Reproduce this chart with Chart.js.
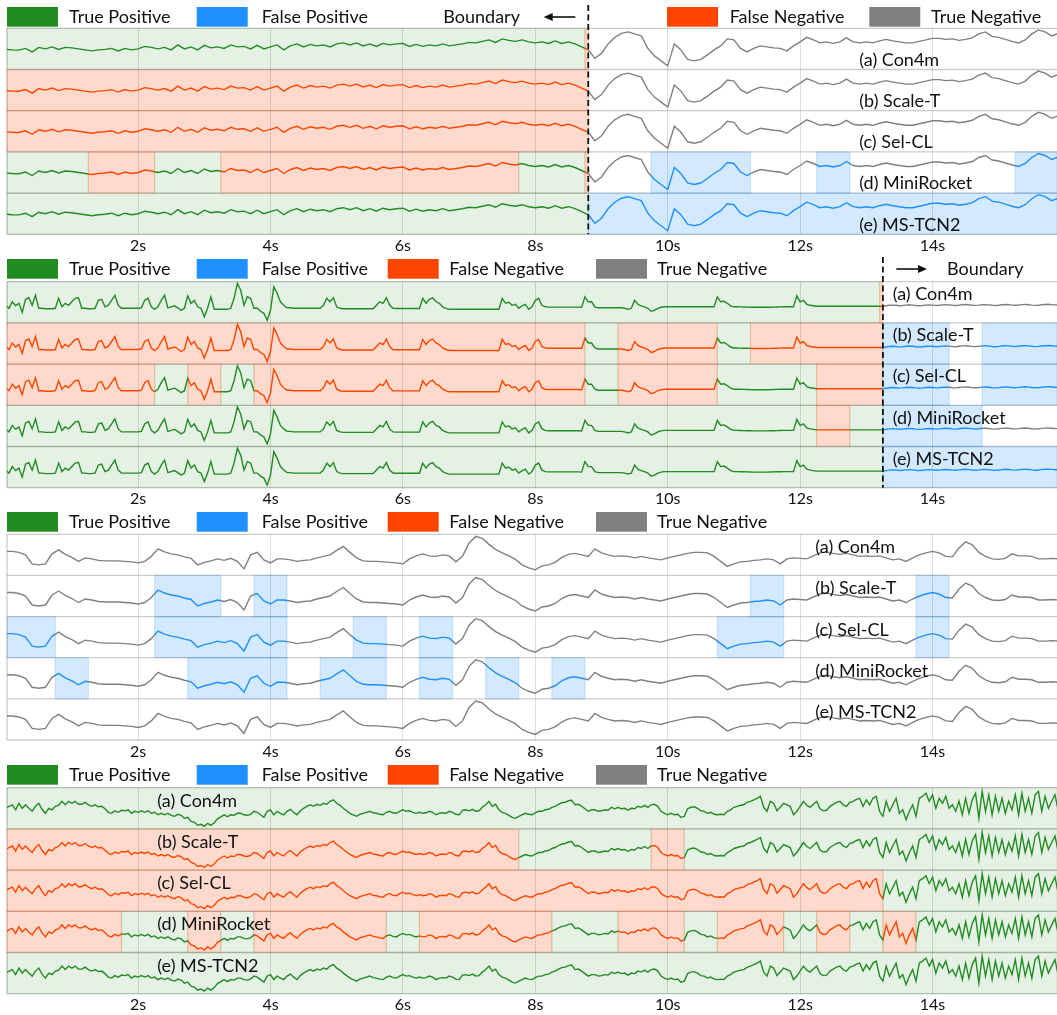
<!DOCTYPE html>
<html><head><meta charset="utf-8">
<script src="https://cdn.jsdelivr.net/npm/chart.js@4.4.0/dist/chart.umd.min.js"></script>
<style>
html,body{margin:0;padding:0;background:#fff;width:1057px;height:1015px;overflow:hidden}
canvas{position:absolute;left:0}
</style></head><body>
<canvas id="c0" width="1057" height="256" style="top:0px"></canvas>
<canvas id="c1" width="1057" height="256" style="top:253px"></canvas>
<canvas id="c2" width="1057" height="256" style="top:506px"></canvas>
<canvas id="c3" width="1057" height="256" style="top:759px"></canvas>
<script>
// ---------------- DATA ----------------
const methods = ['(a) Con4m', '(b) Scale-T', '(c) Sel-CL', '(d) MiniRocket', '(e) MS-TCN2'];
const legendNames = { TP: 'True Positive', FP: 'False Positive', FN: 'False Negative', TN: 'True Negative' };
const tickValues = [2, 4, 6, 8, 10, 12, 14];
const timeMin = 0.02;
const timeMax = 15.88;

// Panel 1 signal, sampled every 0.1 s from t = 0
const p1Step = 0.1;
const p1Signal = [
 -0.5,-1,-1.2,0.5,-3,1.5,0,2,-0.5,1.5,
 1,0,-1,-2,-1,-0.5,0.5,-2,0.5,-1,
 0,2.5,1.5,0,1.5,-1,4,0,2,-1,
 3.5,1,2,0.5,4,2,2.5,0,3.5,0,
 2,4,-1,3,5,2,4.5,3,4,2,
 5,6,4,6,3,5,2.5,5.5,4,5,
 5.5,2.5,4.5,2.5,4,3,5,3,4,5,
 6.5,6,7.5,9,6.5,10,8.5,7.5,9,7,
 6,7,5.5,8,5.5,7,5,2,-1,-9.5,
 -4.5,5,11.5,15.5,17,15,13,0.5,-7,-12,
 -17,5,-1,-10.5,-12,-10.5,-6,-1,3,10,
 9,0.5,-3,0.5,3,2,1,0.5,-2,3,
 7,11.5,9,6,7,5.5,7,11,7,6,
 7,6,8,9.5,8,7,6,6,7.5,9,
 10.5,10.5,9.5,10,8.5,9.5,11,15,17,12.5,
 11.5,9.5,7.5,6,9,15,19,17,13,15.5,
 17];
const p1Spans = [
 [[0,8.75,'TP'],[8.75,8.8,'FN']],
 [[0,8.8,'FN']],
 [[0,8.8,'FN']],
 [[0,1.25,'TP'],[1.25,2.25,'FN'],[2.25,3.25,'TP'],[3.25,7.75,'FN'],[7.75,8.75,'TP'],[8.75,8.8,'FN'],[9.75,11.25,'FP'],[12.25,12.75,'FP'],[15.25,16,'FP']],
 [[0,8.8,'TP'],[8.8,16,'FP']]
];
const p1Boundary = 8.8;

// Panel 2 signal, sampled every 0.05 s from t = 0
const p2Step = 0.05;
const p2Signal = [
 -3,-6,0.5,-3.5,-1,-10,3,4.5,-3,7,-6,-6,-6.5,-6.5,-6.5,-6,4,-4.5,-1,-3,
 0.5,4,4.5,-6,-6,-6.5,-6.5,-6,2,3,-4.5,-3,2,7,-3,-6,-6,-6,-6,-6,
 -6,-5.5,2,4,-4.5,-7,-4.5,2,7,-5.5,-4.5,-3.5,-5.5,-8,-6,6.5,-1,2,-4.5,-6,
 -14.5,-6,5.5,-7,-7,-7,-7,-7,-6,4,19,12,-3,5.5,4,-6,-6,-9,-11,-18,
 -8,15.5,9,0.5,-3,-5.5,-5.5,-6,-6,-6,-6,-6,-6,-6,-6,-6,-3,4,0.5,4.5,
 -4.5,-6,-6.5,-6.5,-6.5,-6.5,-6.5,-6.5,-6.5,-6.5,-6.5,-6.5,-3,0.5,-1,4.5,-3,-6,-6.2,-6.2,
 -6.2,-6.2,-6.2,-6.2,-6.2,-6.2,4,-1,3,4.5,0.5,-1,-4.5,-6,-7,-7,-7,-7,-7,-7,
 -7,-7,-7,-7,-7,-7,-7,-7,-7,-7,4,-1,0,-3,-2,-6,-3.5,-2,-7,-4.5,
 2,4,-3,-4.5,-4.8,-4.8,-4.8,-4.8,-4.8,-4.8,-4.8,-4.8,-4.8,-4.8,-5,5.5,0.5,0.5,-4.5,-5.5,
 -5.5,-5.5,-5.5,-5.5,-5.5,-5.5,-5.5,-6,-7,-6,2,-2,-3.5,-4.5,-6,-9,-8,-6,-5,-4.5,
 -4.5,-4.5,-4.5,-4.5,-4.5,-4.5,-4.5,-4.5,-4.5,-4.5,-4.5,-4.5,-4.5,-4.5,-4.5,5.5,0.5,1,-1,-3.5,
 -4.5,-4.5,-4.6,-4.7,-4.8,-4.9,-5,-5,-5,-5,-5,-4.9,-4.8,-4.7,-4.6,-4.5,-4.5,-4.5,-4.5,6.5,
 0.5,2,-2,-3,-3.5,-4,-4,-4,-4,-4,-4,-4,-4,-4,-4,-4,-4,-4,-4,-4,
 -4,-4,-4,-4,-4,-4,-3.5,-3,-2.8,-3,-3.4,-3.2,-2.8,-2.5,-2.8,-3.2,-3.5,-3.2,-2.8,-2.6,
 -2.8,-3.2,-3,-2.6,-2.4,-2.6,-3,-3.2,-2.8,-2.4,-2.2,-2.5,-2.9,-3.1,-2.8,-2.4,-2.3,-2.6,-3,-3.2,
 -2.9,-2.5,-2.2,-2.4,-2.8,-3,-2.7,-2.3,-2.1,-2.4,-2.8,-3.1,-2.9,-2.5,-2.2,-2,-2.3,-2.6,-2.8,-2.5,
 -2.2];
const p2Spans = [
 [[0,13.2,'TP'],[13.2,13.25,'FN']],
 [[0,8.75,'FN'],[8.75,9.25,'TP'],[9.25,10.75,'FN'],[10.75,11.25,'TP'],[11.25,13.25,'FN'],[13.25,14.25,'FP'],[14.75,16,'FP']],
 [[0,2.25,'FN'],[2.25,2.75,'TP'],[2.75,3.25,'FN'],[3.25,3.75,'TP'],[3.75,8.75,'FN'],[8.75,9.25,'TP'],[9.25,10.75,'FN'],[10.75,12.25,'TP'],[12.25,13.25,'FN'],[13.25,14.25,'FP'],[14.75,16,'FP']],
 [[0,12.25,'TP'],[12.25,12.75,'FN'],[12.75,13.25,'TP'],[13.25,14.75,'FP']],
 [[0,13.25,'TP'],[13.25,16,'FP']]
];
const p2Boundary = 13.25;

// Panel 3 signal, sampled every 0.1 s from t = 0
const p3Step = 0.1;
const p3Signal = [
 3.5,3.5,2.5,0,-9,-10,-9,1,5,0.5,
 -2.5,-6.5,-3,-4,-5.5,-6,-6,-6,-6.5,-7,
 -8,-6.5,-1.5,6,3,1,0,-2,-3.5,-10,
 -7.5,-6,-4,-5.5,-3.5,-6.5,-14,0,2.5,-5,
 -8,-4,-4,-5,-6.5,-5.5,-5,-3,-1.5,0,
 4.5,8.5,2.5,-3,-6,-6.5,-6.5,-7,-7.5,-8,
 -9,-4,-1,1,-1,-1.5,0,-1,-7,-1.5,
 12,18.5,16.5,10.5,5.5,2,-1,-4.5,-10,-13,
 -15,-11,-10,-7.5,-2.5,0.5,1.5,0,-1.5,6,
 2,0,-1.5,-1,-1.5,-3,-1.5,-3,-4,-5,
 -3,-1.5,0,1.5,2.5,2.5,2,-1.5,-6.5,-11.5,
 -9,-7,-6.5,-5.5,-5,-4,-5,-9,-4,-3,
 -3.5,-4,-1,2,3,1.5,0.5,1.5,0,-1.5,
 -1,-1.5,-1,-3,-5,-4,-6.5,-3,0,2,
 3.5,2,-1.5,-2,7,13,10,2.5,-1.5,-4,
 -4.5,-3.5,1,-1,-1,-1.5,-4,-4,-3.5,-4,
 -5];
const p3Spans = [
 [],
 [[2.25,3.25,'FP'],[3.75,4.25,'FP'],[11.25,11.75,'FP'],[13.75,14.25,'FP']],
 [[0,0.75,'FP'],[2.25,4.25,'FP'],[5.25,5.75,'FP'],[6.25,6.75,'FP'],[10.75,11.75,'FP'],[13.75,14.25,'FP']],
 [[0.75,1.25,'FP'],[2.75,4.25,'FP'],[4.75,5.75,'FP'],[6.25,6.75,'FP'],[7.25,7.75,'FP'],[8.25,8.75,'FP']],
 []
];

// Panel 4 signal, sampled every 0.05 s from t = 0
const p4Step = 0.05;
const p4Signal = [
 0,2,3.5,-1.5,5,0,3.5,0,-3,2,5,-1,-5,0,-1.5,2,3,7,3.5,7,
 5,7,4,4,6,3.5,2,3.5,1.5,2,-0.5,-4,-5,-2.5,-4,-2,-2.5,-1.5,-5,-3,
 -4,-2.5,-4,-2.5,-5,-4,-6.5,-5,-6.5,-5,-7,-8,-6,-7,-10,-9,-13,-14,-17,-16,
 -18,-15,-17,-14.5,-10.5,-8.5,-6.5,-8.5,-6.5,-7,-5,-5,-6.5,-7,-6,-3,-4,-6.5,-9,-3,
 -1.5,-6.5,-3,-5,-6.5,-3,-1,-4,-6.5,-2.5,0,2,3.5,2,4,3,5,4,7,8.5,
 5,3,0,-2.5,-5,-6.5,-8,-6,-5,-4,-3,-4.5,-5,-6,-6.5,-4,-3,-4.5,-5,-3,
 -1.5,-3,-2.5,-4,-5,-4,-5,-4.5,-3,-4,-6.5,-5,-4.5,-5,-3,-4,-6,-6.5,-2,-1.5,
 -2.5,-1,-3,-2.5,1,3.5,7,2,4,-1.5,-4,-5,-7,-9,-10,-8,-6.5,-5,-6,-6.5,
 -4.5,-3,-3,-1.5,-1,1,2,4,5.5,6,7.5,8,3.5,4,2,-0.5,-3,-1.5,-1.5,-3,
 -2.5,-1.5,-2,1,-0.5,1,-0.5,0,-2,0,-0.5,2,1,3,1,3.5,4,2,-3,-5,
 -6.5,-5,-6.5,-6,-9,-8,-0.5,1,1.5,0,-2.5,-3,-5,-4,-6,-6.5,-6,-6.5,-3,-1.5,
 1,2,3,3.5,6,7,8.5,10,12,1,-3,7,5,-2.5,1,5,3.5,2,-6.5,-3,
 2,7,3,1,4,7,-0.5,-2.5,-2,2,4,6,7,3.5,2,6,7,9,10,2,
 8.5,3.5,10,12,-3,-8,7,-3,3.5,10,-5,-1.5,-11.5,-3,3.5,-8,10,12,15,7,
 13.5,0,10,5,12,0,3.5,-3,7,-6.5,10,-5,8.5,15,-10,17,-3,13.5,-6.5,12,
 -3,10,-5,7,-1.5,13.5,-6.5,15,-3,10,-5,13.5,17,-3,12,0,7,13.5,-3,10,
 3.5];
const p4Spans = [
 [[0,16,'TP']],
 [[0,7.75,'FN'],[7.75,9.75,'TP'],[9.75,10.25,'FN'],[10.25,16,'TP']],
 [[0,13.25,'FN'],[13.25,16,'TP']],
 [[0,1.75,'FN'],[1.75,2.75,'TP'],[2.75,3.25,'FN'],[3.25,3.75,'TP'],[3.75,5.75,'FN'],[5.75,6.25,'TP'],[6.25,8.25,'FN'],[8.25,9.25,'TP'],[9.25,10.25,'FN'],[10.25,10.75,'TP'],[10.75,11.75,'FN'],[11.75,12.25,'TP'],[12.25,12.75,'FN'],[12.75,13.25,'TP'],[13.25,13.75,'FN'],[13.75,16,'TP']],
 [[0,16,'TP']]
];

// ---------------- STYLE / LAYOUT ----------------
const ROW_RANGE = 41.2;
const FONT = 'Lato, "Open Sans", sans-serif';
const LINE = { TP: '#228B22', FP: '#1E90FF', FN: '#FF4500', TN: '#808080' };
const FILL = { TP: 'rgba(34,139,34,0.12)', FP: 'rgba(30,144,255,0.2)', FN: 'rgba(255,69,0,0.2)' };
const legendFull = [[7, 69, 'TP'], [196.7, 261.7, 'FP'], [387.7, 449.3, 'FN'], [596, 657, 'TN']];
const legendSplit = [[7, 69, 'TP'], [196.7, 261.7, 'FP'], [667, 729.7, 'FN'], [869.3, 931, 'TN']];

const panels = [
 { id: 'c0', step: p1Step, signal: p1Signal, spans: p1Spans, boundary: p1Boundary, plotTop: 28.3, plotBottom: 234.3,
   legendTop: 7, legend: legendSplit, bLegend: { textX: 443.3, tail: 575.3, head: 543.7 }, labelX: 859.3, labelDy: 37.4 },
 { id: 'c1', step: p2Step, signal: p2Signal, spans: p2Spans, boundary: p2Boundary, plotTop: 28.7, plotBottom: 234.7,
   legendTop: 6, legend: legendFull, bLegend: { textX: 947, tail: 896.3, head: 927 }, labelX: 892.7, labelDy: 18.3 },
 { id: 'c2', step: p3Step, signal: p3Signal, spans: p3Spans, boundary: null, plotTop: 28.3, plotBottom: 234,
   legendTop: 6, legend: legendFull, bLegend: null, labelX: 815.3, labelDy: 19 },
 { id: 'c3', step: p4Step, signal: p4Signal, spans: p4Spans, boundary: null, plotTop: 28.7, plotBottom: 234.7,
   legendTop: 6, legend: legendFull, bLegend: null, labelX: 157.3, labelDy: 19 }
];
const CANVAS_H = 256, AXIS_H = 20;

function lineGradient(chart, spans) {
  const { ctx, chartArea, scales } = chart;
  if (!chartArea) return LINE.TN;
  const x0 = chartArea.left, x1 = chartArea.right;
  const g = ctx.createLinearGradient(x0, 0, x1, 0);
  const pos = v => Math.min(1, Math.max(0, (scales.x.getPixelForValue(v) - x0) / (x1 - x0)));
  const sorted = spans.slice().sort((a, b) => a[0] - b[0]);
  let cur = scales.x.min; const pieces = [];
  for (const [s, e, t] of sorted) { if (s > cur) pieces.push([cur, s, 'TN']); pieces.push([s, e, t]); cur = e; }
  if (cur < scales.x.max) pieces.push([cur, scales.x.max, 'TN']);
  for (const [s, e, t] of pieces) { g.addColorStop(pos(s), LINE[t]); g.addColorStop(pos(e), LINE[t]); }
  return g;
}

const panelPlugin = {
  id: 'panelDecor',
  beforeDraw(chart, args, o) {
    const { ctx, chartArea: a, scales: { x, y } } = chart;
    ctx.save();
    o.spans.forEach((row, r) => {
      const top = y.getPixelForValue((5 - r) * ROW_RANGE), bot = y.getPixelForValue((4 - r) * ROW_RANGE);
      row.forEach(([s, e, t]) => {
        const xs = Math.max(a.left, x.getPixelForValue(s)), xe = Math.min(a.right, x.getPixelForValue(e));
        ctx.fillStyle = FILL[t]; ctx.fillRect(xs, top, xe - xs, bot - top);
        ctx.strokeStyle = FILL[t]; ctx.lineWidth = 1.2; ctx.strokeRect(xs, top, xe - xs, bot - top);
      });
    });
    ctx.restore();
  },
  beforeDatasetsDraw(chart, args, o) {
    const { ctx, chartArea: a, scales: { y } } = chart;
    ctx.save();
    ctx.strokeStyle = 'rgba(110,110,110,0.35)'; ctx.lineWidth = 1.3;
    for (let k = 0; k <= 5; k++) {
      const py = y.getPixelForValue(k * ROW_RANGE);
      ctx.beginPath(); ctx.moveTo(a.left, py); ctx.lineTo(a.right, py); ctx.stroke();
    }
    ctx.beginPath(); ctx.moveTo(a.left, a.top); ctx.lineTo(a.left, a.bottom); ctx.stroke();
    ctx.restore();
  },
  afterDraw(chart, args, o) {
    const { ctx, chartArea: a, scales: { x, y } } = chart;
    ctx.save();
    ctx.fillStyle = '#111'; ctx.font = '18px ' + FONT; ctx.textBaseline = 'alphabetic'; ctx.textAlign = 'left';
    methods.forEach((m, r) => {
      const top = y.getPixelForValue((5 - r) * ROW_RANGE);
      ctx.fillText(m, o.labelX, top + o.labelDy);
    });
    o.legend.forEach(([bx, tx, k]) => {
      ctx.fillStyle = LINE[k]; ctx.fillRect(bx, o.legendTop, 51, 19.7);
      ctx.fillStyle = '#111'; ctx.fillText(legendNames[k], tx, o.legendTop + 15.7);
    });
    if (o.bLegend) {
      const b = o.bLegend, ay = o.legendTop + 10;
      ctx.fillStyle = '#111'; ctx.fillText('Boundary', b.textX, o.legendTop + 15.7);
      const dir = Math.sign(b.head - b.tail);
      ctx.strokeStyle = '#111'; ctx.lineWidth = 1.6;
      ctx.beginPath(); ctx.moveTo(b.tail, ay); ctx.lineTo(b.head - dir * 6, ay); ctx.stroke();
      ctx.beginPath(); ctx.moveTo(b.head, ay); ctx.lineTo(b.head - dir * 9, ay - 4); ctx.lineTo(b.head - dir * 9, ay + 4); ctx.closePath(); ctx.fill();
    }
    if (o.boundary != null) {
      const bx = x.getPixelForValue(o.boundary);
      ctx.strokeStyle = '#111'; ctx.lineWidth = 1.8; ctx.setLineDash([6, 3.5]);
      ctx.beginPath(); ctx.moveTo(bx, o.legendTop - 2); ctx.lineTo(bx, a.bottom); ctx.stroke();
    }
    ctx.restore();
  }
};

panels.forEach(p => {
  const datasets = p.spans.map((rowSpans, r) => {
    const center = (4.5 - r) * ROW_RANGE;
    return {
      label: methods[r],
      data: p.signal.map((v, i) => ({ x: +(i * p.step).toFixed(2), y: center + v })),
      borderColor: ctx => lineGradient(ctx.chart, rowSpans),
      borderWidth: 1.4, pointRadius: 0, tension: 0, fill: false
    };
  });
  new Chart(document.getElementById(p.id), {
    type: 'line',
    data: { datasets },
    options: {
      responsive: false, animation: false, devicePixelRatio: 1,
      layout: { padding: { left: 7, right: 0, top: p.plotTop, bottom: CANVAS_H - p.plotBottom - AXIS_H } },
      scales: {
        x: {
          type: 'linear', min: timeMin, max: timeMax,
          afterBuildTicks: s => { s.ticks = tickValues.map(v => ({ value: v })); },
          afterFit: s => { s.height = AXIS_H; },
          ticks: { callback: v => v + 's', font: { family: FONT, size: 16 }, color: '#111', padding: 2, maxRotation: 0, autoSkip: false },
          grid: { color: 'rgba(0,0,0,0.13)', lineWidth: 1, drawTicks: false },
          border: { display: false }
        },
        y: { display: false, min: 0, max: 5 * ROW_RANGE }
      },
      plugins: {
        legend: { display: false }, tooltip: { enabled: false },
        panelDecor: { spans: p.spans, boundary: p.boundary, legend: p.legend, legendTop: p.legendTop, bLegend: p.bLegend, labelX: p.labelX, labelDy: p.labelDy }
      }
    },
    plugins: [panelPlugin]
  });
});
</script>
</body></html>
